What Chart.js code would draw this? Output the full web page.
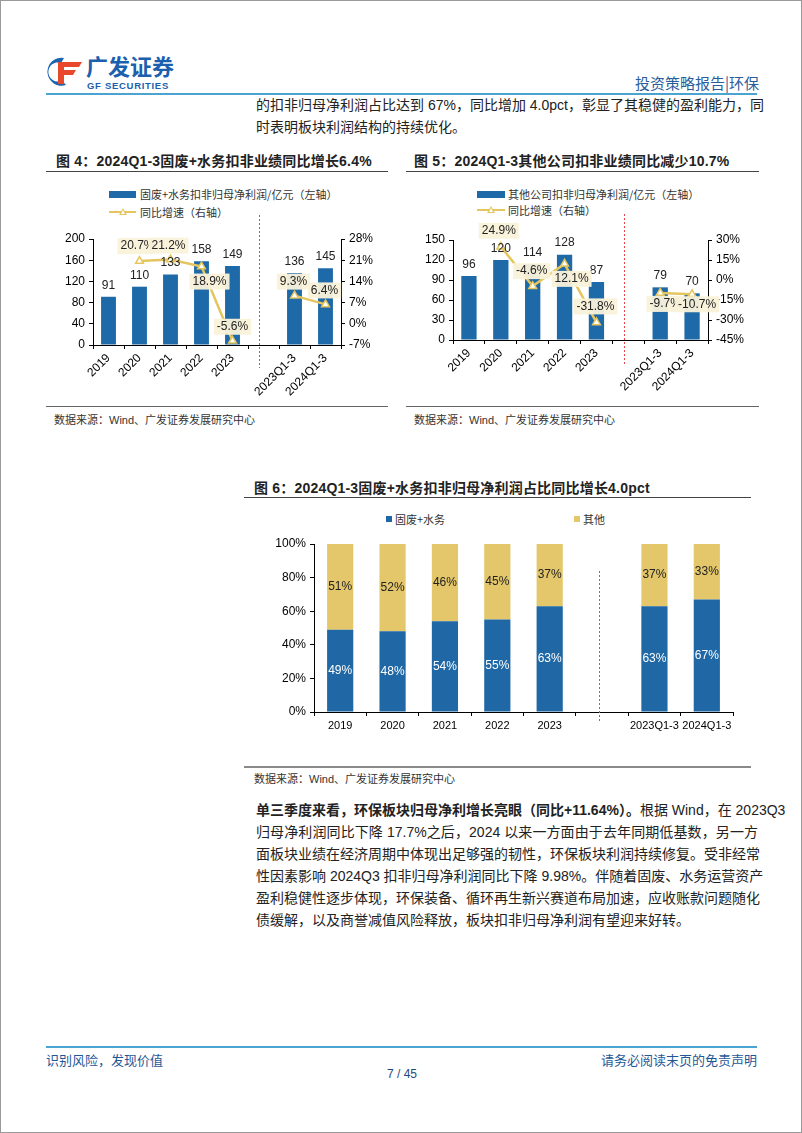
<!DOCTYPE html>
<html><head><meta charset="utf-8">
<script src="https://cdn.jsdelivr.net/npm/chart.js@4.4.1/dist/chart.umd.min.js"></script>
<style>
html,body{margin:0;padding:0;background:#fff;}
#page{position:relative;width:800px;height:1131px;border:1px solid #9a9a9a;overflow:hidden;font-family:"Liberation Sans","Noto Sans CJK SC",sans-serif;color:#222;}
.abs{position:absolute;white-space:nowrap;}
.hline{position:absolute;height:0;}
.jl{position:absolute;left:255px;width:502px;font-size:14px;line-height:18px;text-align:justify;text-align-last:justify;white-space:nowrap;}
.title{position:absolute;font-weight:bold;font-size:14px;color:#222;letter-spacing:0.2px;}
.src{position:absolute;font-size:11px;color:#333;}
.lg{position:absolute;font-size:11px;color:#333;font-family:"Noto Sans CJK SC",sans-serif;}
canvas{position:absolute;}
</style></head>
<body><div id="page">
<!-- header -->
<svg class="abs" style="left:44px;top:56px" width="40" height="30" viewBox="0 0 40 30">
 <path d="M19 1 A14 14 0 1 0 21 28 L17 23.5 A9.5 9.5 0 1 1 16 6 Z" fill="#1c63b0"/>
 <path d="M13 5 H37 L34 10 H19 V13 H31 L28 18 H19 V27 H13 Z" fill="#e8482c"/>
</svg>
<div class="abs" style="left:85px;top:49px;font-size:22px;line-height:30px;font-weight:bold;color:#1b5fae;font-family:'Noto Sans CJK SC';">广发证券</div>
<div class="abs" style="left:86px;top:80px;font-size:9.5px;line-height:10px;font-weight:bold;color:#1b5fae;letter-spacing:0.7px;">GF SECURITIES</div>
<div class="abs" style="left:634px;top:71px;font-size:15px;color:#2a5d9c;font-family:'Noto Sans CJK SC';">投资策略报告|环保</div>
<div class="hline" style="left:45px;top:92px;width:711px;border-top:2px solid #4aa3d1;"></div>
<div class="jl" style="top:95px;">的扣非归母净利润占比达到 67%，同比增加 4.0pct，彰显了其稳健的盈利能力，同</div>
<div class="jl" style="top:117px;text-align-last:left;">时表明板块利润结构的持续优化。</div>

<!-- fig 4 -->
<div class="title" style="left:55px;top:149px;">图 4：2024Q1-3固废+水务扣非业绩同比增长6.4%</div>
<div class="hline" style="left:45px;top:170px;width:342px;border-top:1.5px solid #444;"></div>
<div class="abs" style="left:108px;top:190px;width:27px;height:7px;background:#1e69a7;"></div>
<div class="lg" style="left:139px;top:185px;">固废+水务扣非归母净利润/亿元（左轴）</div>
<div class="abs" style="left:108px;top:210px;width:27px;height:2px;background:#e5c55e;"></div>
<div class="abs" style="left:118px;top:207px;width:0;height:0;border-left:4px solid transparent;border-right:4px solid transparent;border-bottom:7px solid #e5c55e;"></div>
<div class="abs" style="left:120px;top:209px;width:0;height:0;border-left:2px solid transparent;border-right:2px solid transparent;border-bottom:4px solid #fff;"></div>
<div class="lg" style="left:139px;top:203px;">同比增速（右轴）</div>
<canvas id="c4" width="345" height="195" style="left:45px;top:205px;"></canvas>
<div class="hline" style="left:45px;top:405px;width:342px;border-top:1px solid #666;"></div>
<div class="src" style="left:53px;top:410px;">数据来源：Wind、广发证券发展研究中心</div>

<!-- fig 5 -->
<div class="title" style="left:413px;top:149px;">图 5：2024Q1-3其他公司扣非业绩同比减少10.7%</div>
<div class="hline" style="left:405px;top:170px;width:353px;border-top:1.5px solid #444;"></div>
<div class="abs" style="left:476px;top:190px;width:28px;height:7px;background:#1e69a7;"></div>
<div class="lg" style="left:507px;top:185px;">其他公司扣非归母净利润/亿元（左轴）</div>
<div class="abs" style="left:476px;top:208px;width:28px;height:2px;background:#e5c55e;"></div>
<div class="abs" style="left:486px;top:205px;width:0;height:0;border-left:4px solid transparent;border-right:4px solid transparent;border-bottom:7px solid #e5c55e;"></div>
<div class="abs" style="left:488px;top:207px;width:0;height:0;border-left:2px solid transparent;border-right:2px solid transparent;border-bottom:4px solid #fff;"></div>
<div class="lg" style="left:507px;top:201px;">同比增速（右轴）</div>
<canvas id="c5" width="355" height="195" style="left:405px;top:205px;"></canvas>
<div class="hline" style="left:405px;top:405px;width:353px;border-top:1px solid #666;"></div>
<div class="src" style="left:413px;top:410px;">数据来源：Wind、广发证券发展研究中心</div>

<!-- fig 6 -->
<div class="title" style="left:253px;top:476px;">图 6：2024Q1-3固废+水务扣非归母净利润占比同比增长4.0pct</div>
<div class="hline" style="left:243px;top:496px;width:507px;border-top:1.5px solid #444;"></div>
<div class="abs" style="left:385px;top:515px;width:6px;height:6px;background:#1f67a5;"></div>
<div class="lg" style="left:394px;top:510px;">固废+水务</div>
<div class="abs" style="left:573px;top:515px;width:6px;height:6px;background:#e4c76a;"></div>
<div class="lg" style="left:582px;top:510px;">其他</div>
<canvas id="c6" width="495" height="210" style="left:250px;top:528px;"></canvas>
<div class="hline" style="left:243px;top:765px;width:507px;border-top:2px solid #8a8a8a;"></div>
<div class="src" style="left:253px;top:769px;">数据来源：Wind、广发证券发展研究中心</div>

<!-- paragraph -->
<div class="jl" style="top:800px;"><b>单三季度来看，环保板块归母净利增长亮眼（同比+11.64%）。</b>根据 Wind，在 2023Q3</div>
<div class="jl" style="top:822px;">归母净利润同比下降 17.7%之后，2024 以来一方面由于去年同期低基数，另一方</div>
<div class="jl" style="top:844px;">面板块业绩在经济周期中体现出足够强的韧性，环保板块利润持续修复。受非经常</div>
<div class="jl" style="top:866px;">性因素影响 2024Q3 扣非归母净利润同比下降 9.98%。伴随着固废、水务运营资产</div>
<div class="jl" style="top:888px;">盈利稳健性逐步体现，环保装备、循环再生新兴赛道布局加速，应收账款问题随化</div>
<div class="jl" style="top:910px;text-align-last:left;">债缓解，以及商誉减值风险释放，板块扣非归母净利润有望迎来好转。</div>

<!-- footer -->
<div class="hline" style="left:45px;top:1045px;width:711px;border-top:2px solid #4aa3d1;"></div>
<div class="abs" style="left:45px;top:1049px;font-size:13px;color:#1f5896;font-family:'Noto Sans CJK SC';">识别风险，发现价值</div>
<div class="abs" style="right:44px;top:1049px;font-size:13px;color:#1f5896;font-family:'Noto Sans CJK SC';">请务必阅读末页的免责声明</div>
<div class="abs" style="left:0;width:802px;text-align:center;top:1066px;font-size:12px;color:#1f4a80;">7 / 45</div>
</div>
<script>
// ===== data =====
const categories = ['2019','2020','2021','2022','2023','','2023Q1-3','2024Q1-3'];
const gfWaterProfit = [91,110,133,158,149,null,136,145];
const gfWaterGrowth = [null,20.7,21.2,18.9,-5.6,null,9.3,6.4];
const otherProfit = [96,120,114,128,87,null,79,70];
const otherGrowth = [null,24.9,-4.6,12.1,-31.8,null,-9.7,-10.7];
const shareGfWater = [49,48,54,55,63,null,63,67];
const shareOther = [51,52,46,45,37,null,37,33];

// ===== styles =====
const BLUE = '#1e69a7', GOLD = '#e5c55e', GOLD_BAR = '#e4c76a', BOX = 'rgba(250,242,218,0.95)';
const FONT = {family:'"Liberation Sans", Arial, sans-serif', size:12};
const FONT_SM = {family:'"Liberation Sans", Arial, sans-serif', size:11};
const fig4Offsets = [null,[-2,-15],[-2,-14],[8,15],[0,-14],null,[-1,-14],[-1,-14]];
const fig5Offsets = [null,[-2,-16],[-1,-15],[7,15],[-1,-16],null,[5,11],[5,10]];

function labelPlugin(sets){
  return {id:'vl', afterDatasetsDraw(chart){
    const ctx = chart.ctx; ctx.save();
    ctx.font = '12px "Liberation Sans", Arial, sans-serif';
    ctx.textAlign='center'; ctx.textBaseline='middle';
    sets.forEach((cfg,di)=>{
      if(!cfg) return;
      const meta = chart.getDatasetMeta(di);
      const data = chart.data.datasets[di].data;
      meta.data.forEach((el,i)=>{
        const v = data[i]; if(v==null) return;
        const txt = cfg.fmt(v);
        let x,y;
        if(cfg.mode==='top'){x=el.x;y=el.y-cfg.gap;}
        else if(cfg.mode==='center'){x=el.x;y=(el.y+el.base)/2;}
        else {const o=cfg.offsets[i]; x=el.x+o[0]; y=el.y+o[1];}
        if(cfg.box){const w=ctx.measureText(txt).width+6; ctx.fillStyle=cfg.box; ctx.fillRect(x-w/2,y-8,w,16);}
        ctx.fillStyle=cfg.color; ctx.fillText(txt,x,y);
      });
    });
    ctx.restore();
  }};
}
function dividerPlugin(idx,dx,top,bottom){
  return {id:'div', afterDraw(chart){
    const xs = chart.scales.x, a = chart.chartArea, ctx = chart.ctx;
    const x = Math.round(xs.getPixelForValue(idx)+dx)+0.5;
    ctx.save(); ctx.strokeStyle='#e0484c'; ctx.lineWidth=1; ctx.setLineDash([2,2]);
    ctx.beginPath(); ctx.moveTo(x,a.top+top); ctx.lineTo(x,a.bottom+bottom); ctx.stroke(); ctx.restore();
  }};
}
function axisY(opts){
  return Object.assign({
    grid:{drawOnChartArea:false,drawTicks:true,tickLength:4,color:'#000'},
    border:{display:true,color:'#000',width:1},
    ticks:{font:FONT,color:'#000',padding:4}
  }, opts);
}
function comboChart(id, bars, growth, offsets, yCfg, y1Cfg, fit){
  return new Chart(document.getElementById(id), {
    data:{labels:categories, datasets:[
      {type:'bar', data:bars, backgroundColor:BLUE, barPercentage:1, categoryPercentage:0.48, yAxisID:'y', order:1},
      {type:'line', data:growth, yAxisID:'y1', borderColor:GOLD, borderWidth:2.5, tension:0, spanGaps:false,
       pointStyle:'triangle', pointRadius:4.5, pointBackgroundColor:'#fff', pointBorderColor:GOLD, pointBorderWidth:1.5, order:0}
    ]},
    options:{responsive:false, animation:false, maintainAspectRatio:false,
      layout:{padding:{top:fit.top,left:0,right:0,bottom:0}},
      plugins:{legend:{display:false}, tooltip:{enabled:false}},
      scales:{
        x:{grid:{drawOnChartArea:false,drawTicks:true,tickLength:4,color:'#000',offset:true},
           border:{color:'#000'}, ticks:{font:FONT,color:'#000',minRotation:45,maxRotation:45,autoSkip:false,padding:2},
           afterFit:s=>{s.height=fit.xh;}},
        y:axisY({position:'left', min:yCfg.min, max:yCfg.max, ticks:{font:FONT,color:'#000',padding:4,stepSize:yCfg.step}, afterFit:s=>{s.width=fit.yl;}}),
        y1:axisY({position:'right', min:y1Cfg.min, max:y1Cfg.max, ticks:{font:FONT,color:'#000',padding:4,stepSize:y1Cfg.step,callback:v=>v+'%'}, afterFit:s=>{s.width=fit.yr;}})
      }},
    plugins:[labelPlugin([
      {mode:'top',gap:11.5,fmt:v=>String(v),color:'#222'},
      {mode:'off',offsets:offsets,fmt:v=>v.toFixed(1)+'%',color:'#222',box:BOX}
    ]), dividerPlugin(5,-4.5,fit.dt,fit.db)]
  });
}
comboChart('c4', gfWaterProfit, gfWaterGrowth, fig4Offsets, {min:0,max:200,step:40}, {min:-7,max:28,step:7},
  {top:33, xh:56, yl:47, yr:50, dt:-24, db:23});
comboChart('c5', otherProfit, otherGrowth, fig5Offsets, {min:0,max:150,step:30}, {min:-45,max:30,step:15},
  {top:34, xh:61, yl:47, yr:53, dt:-26, db:26});

new Chart(document.getElementById('c6'), {
  type:'bar',
  data:{labels:categories, datasets:[
    {label:'固废+水务', data:shareGfWater, backgroundColor:'#1f67a5', barPercentage:1, categoryPercentage:0.5},
    {label:'其他', data:shareOther, backgroundColor:GOLD_BAR, barPercentage:1, categoryPercentage:0.5}
  ]},
  options:{responsive:false, animation:false, maintainAspectRatio:false,
    layout:{padding:{top:15,right:13,left:0,bottom:0}},
    plugins:{legend:{display:false}, tooltip:{enabled:false}},
    scales:{
      x:{stacked:true, grid:{drawOnChartArea:false,drawTicks:true,tickLength:4,color:'#000',offset:true},
         border:{color:'#000'}, ticks:{font:FONT_SM,color:'#000',maxRotation:0,autoSkip:false,padding:3},
         afterFit:s=>{s.height=27;}},
      y:{stacked:true, min:0, max:100,
         grid:{drawOnChartArea:false,drawTicks:true,tickLength:4,color:'#000'},
         border:{color:'#000'}, ticks:{font:FONT,color:'#000',stepSize:20,padding:4,callback:v=>v+'%'},
         afterFit:s=>{s.width=63;}}
    }},
  plugins:[labelPlugin([
    {mode:'center',fmt:v=>v+'%',color:'#ffffff'},
    {mode:'center',fmt:v=>v+'%',color:'#222'}
  ]), dividerPlugin(5,-3,27,11)]
});
</script>
</body></html>
